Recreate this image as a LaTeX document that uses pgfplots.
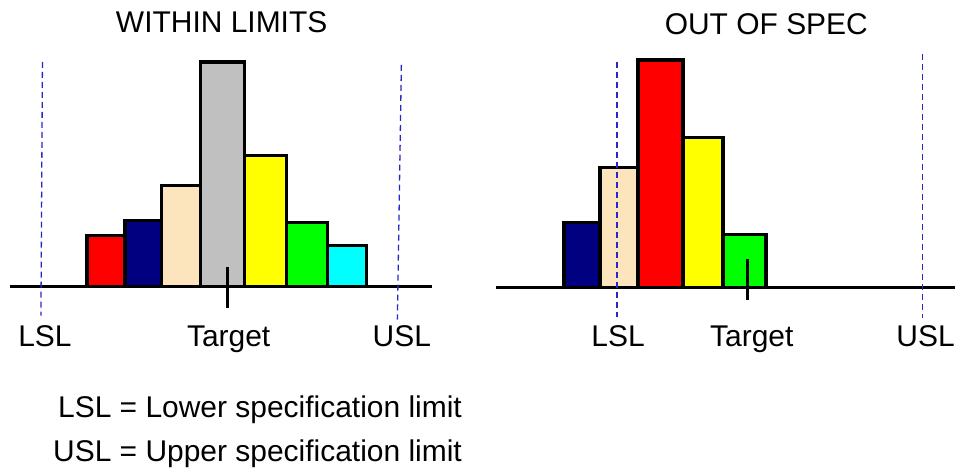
\documentclass[border=0pt]{standalone}
\usepackage{pgfplots}
\pgfplotsset{compat=1.18}
\usepackage{fontspec}
\setmainfont{Liberation Sans}
\definecolor{bnavy}{HTML}{000080}
\definecolor{bbisque}{HTML}{FCE4BC}
\definecolor{bgray}{HTML}{C0C0C0}
\definecolor{bred}{HTML}{FF0000}
\definecolor{byellow}{HTML}{FFFF00}
\definecolor{bgreen}{HTML}{00FF00}
\definecolor{bcyan}{HTML}{00FFFF}
\definecolor{specblue}{RGB}{40,40,200}
\tikzset{lab/.style={anchor=base, inner sep=0pt, font=\fontsize{15}{18}\selectfont}}
\begin{document}
\begin{tikzpicture}
\pgfplotsset{
  panel/.style={x=0.5pt, y=0.5pt, hide axis, clip=false, anchor=south west},
  bar/.style={ybar interval, draw=black, line width=1.7pt, line join=miter},
  spec/.style={specblue, line width=0.65pt, dash pattern=on 3pt off 2pt},
}
% ---------------- WITHIN LIMITS ----------------
\begin{axis}[panel, at={(0pt,0pt)}, xmin=0, xmax=478, ymin=-181, ymax=287]
\path (rel axis cs:0,0) rectangle (rel axis cs:1,1);
\addplot[black, line width=1.5pt] coordinates {(10,0) (433,0)};
\addplot[bar, fill=bred]    coordinates {(87,51)  (125,51)};
\addplot[bar, fill=bnavy]   coordinates {(125,66) (162,66)};
\addplot[bar, fill=bbisque] coordinates {(162,101) (201,101)};
\addplot[bar, fill=bgray]   coordinates {(201,225) (245,225)};
\addplot[bar, fill=byellow] coordinates {(245,131) (287,131)};
\addplot[bar, fill=bgreen]  coordinates {(287,64) (328,64)};
\addplot[bar, fill=bcyan]   coordinates {(328,41) (367,41)};
\addplot[spec] coordinates {(42.5,225) (41,-29)};
\addplot[spec] coordinates {(402,222) (398,-33)};
\addplot[black, line width=1.6pt] coordinates {(228,20) (228,-21)};
\node[lab] at (axis cs:45,-60) {LSL};
\node[lab] at (axis cs:229,-60) {Target};
\node[lab] at (axis cs:402.5,-60) {USL};
\node[lab] at (axis cs:222,254) {WITHIN LIMITS};
\node[lab, anchor=base east] at (axis cs:463,-131) {LSL = Lower specification limit};
\node[lab, anchor=base east] at (axis cs:463,-175) {USL = Upper specification limit};
\end{axis}
% ---------------- OUT OF SPEC ----------------
\begin{axis}[panel, at={(239pt,0pt)}, xmin=478, xmax=956, ymin=-180, ymax=288]
\path (rel axis cs:0,0) rectangle (rel axis cs:1,1);
\addplot[black, line width=1.5pt] coordinates {(497,0) (956,0)};
\addplot[bar, fill=bnavy]   coordinates {(565,65) (601,65)};
\addplot[bar, fill=bbisque] coordinates {(601,120) (639,120)};
\addplot[bar, fill=bred]    coordinates {(639,228) (684,228)};
\addplot[bar, fill=byellow] coordinates {(684,150) (724,150)};
\addplot[bar, fill=bgreen]  coordinates {(724,53) (767,53)};
\addplot[spec] coordinates {(618,226) (618,-29)};
\addplot[spec] coordinates {(924,234) (924,-30)};
\addplot[black, line width=1.6pt] coordinates {(749,29) (749,-12)};
\node[lab] at (axis cs:619,-59) {LSL};
\node[lab] at (axis cs:753,-59) {Target};
\node[lab] at (axis cs:927,-59) {USL};
\node[lab] at (axis cs:767.5,253) {OUT OF SPEC};
\end{axis}
\end{tikzpicture}
\end{document}
